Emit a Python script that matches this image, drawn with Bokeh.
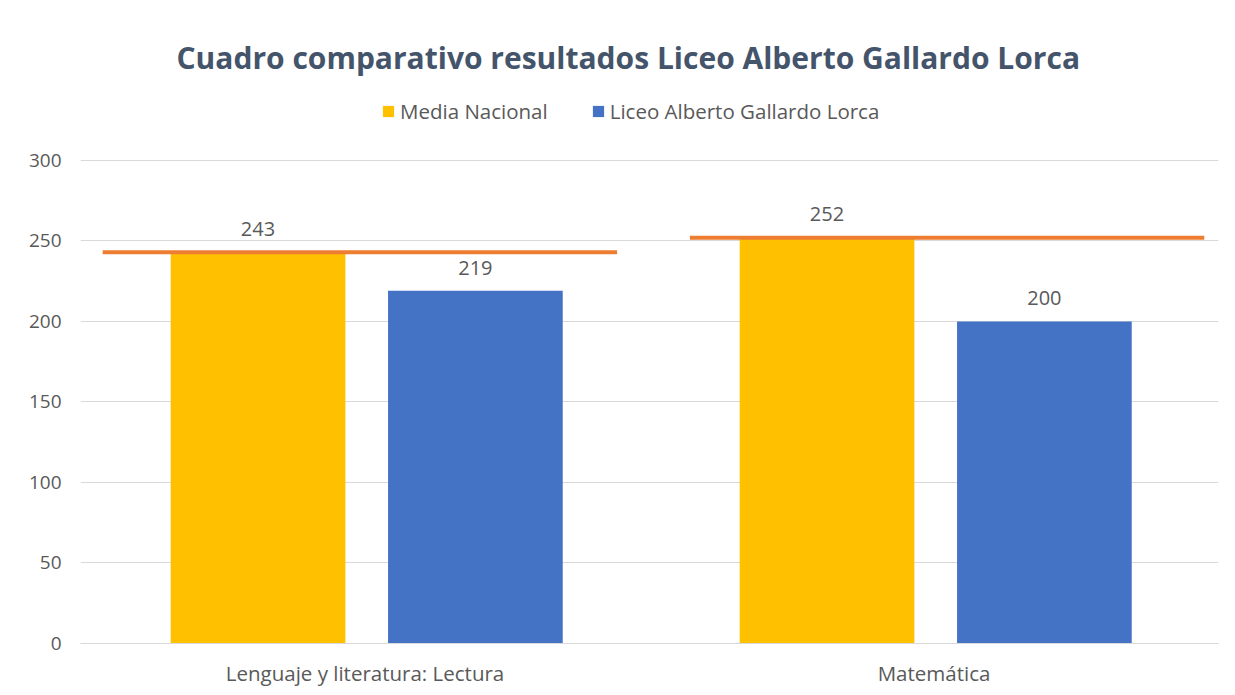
from bokeh.plotting import figure
from bokeh.models import ColumnDataSource, FactorRange, Range1d, Legend, LegendItem, FixedTicker
from bokeh.transform import dodge
from bokeh.core.properties import value
from bokeh.embed import file_html
from bokeh.resources import INLINE

categories = ["Lenguaje y literatura: Lectura", "Matemática"]
media_nacional = [243, 252]
liceo = [219, 200]
series_names = ["Media Nacional", "Liceo Alberto Gallardo Lorca"]
y_ticks = [0, 50, 100, 150, 200, 250, 300]
title_text = "Cuadro comparativo resultados Liceo Alberto Gallardo Lorca"

# styling: horizontal extent of the reference lines within each category band
line_start_off = [-0.461, -0.429]
line_end_off = [0.443, 0.475]

FONT = "Open Sans"
TXT = "#595959"

src = ColumnDataSource(dict(
    cat=categories,
    media=media_nacional,
    liceo=liceo,
    media_lbl=[str(v) for v in media_nacional],
    liceo_lbl=[str(v) for v in liceo],
    lx0=[(c, o) for c, o in zip(categories, line_start_off)],
    lx1=[(c, o) for c, o in zip(categories, line_end_off)],
))

p = figure(
    x_range=FactorRange(*categories),
    y_range=Range1d(0, 342.2),
    frame_width=1138, frame_height=551,
    output_backend="svg", toolbar_location=None,
    min_border_left=80, min_border_right=9, min_border_top=92, min_border_bottom=44,
)
p.outline_line_color = None
p.background_fill_color = "white"
p.border_fill_color = "white"

yellow = p.vbar(x=dodge("cat", -0.188, range=p.x_range), top="media", width=0.307,
                source=src, fill_color="#FFC000", line_color=None)
blue = p.vbar(x=dodge("cat", 0.194, range=p.x_range), top="liceo", width=0.307,
              source=src, fill_color="#4472C4", line_color=None)

p.segment(x0="lx0", x1="lx1", y0="media", y1="media", source=src,
          line_color="#ED7D31", line_width=4)

p.text(x=dodge("cat", -0.188, range=p.x_range), y="media", text="media_lbl", source=src,
       text_font=value(FONT), text_font_size="20px", text_color=TXT,
       text_align="center", text_baseline="middle", y_offset=-23.5)
p.text(x=dodge("cat", 0.194, range=p.x_range), y="liceo", text="liceo_lbl", source=src,
       text_font=value(FONT), text_font_size="20px", text_color=TXT,
       text_align="center", text_baseline="middle", y_offset=-23)

# axes
p.yaxis.ticker = FixedTicker(ticks=y_ticks)
p.yaxis.axis_line_color = None
p.yaxis.major_tick_line_color = None
p.yaxis.minor_tick_line_color = None
p.yaxis.major_label_text_font = FONT
p.yaxis.major_label_text_font_size = "19px"
p.yaxis.major_label_text_color = TXT
p.yaxis.major_label_standoff = 13

p.xaxis.axis_line_color = "#D9D9D9"
p.xaxis.major_tick_line_color = None
p.xaxis.minor_tick_line_color = None
p.xaxis.major_label_text_font = FONT
p.xaxis.major_label_text_font_size = "20.5px"
p.xaxis.major_label_text_color = TXT
p.xaxis.major_label_standoff = 9

p.xgrid.grid_line_color = None
p.ygrid.grid_line_color = "#D9D9D9"
p.ygrid.grid_line_width = 1

# title
p.title.text = title_text
p.title.align = "left"
p.title.text_font = FONT
p.title.text_font_style = "bold"
p.title.text_font_size = "30px"
p.title.text_color = "#44546A"
p.title.offset = 96
p.title.standoff = 29

legend = Legend(items=[LegendItem(label=series_names[0], renderers=[yellow]),
                       LegendItem(label=series_names[1], renderers=[blue])],
                orientation="horizontal", location=(301, 518),
                label_text_font=FONT, label_text_font_size="20.5px", label_text_color=TXT,
                glyph_width=14, glyph_height=14, spacing=43, label_standoff=5,
                border_line_color=None, background_fill_alpha=0, margin=0, padding=4)
p.add_layout(legend, "center")

open("out.html", "w").write(file_html(p, INLINE))
